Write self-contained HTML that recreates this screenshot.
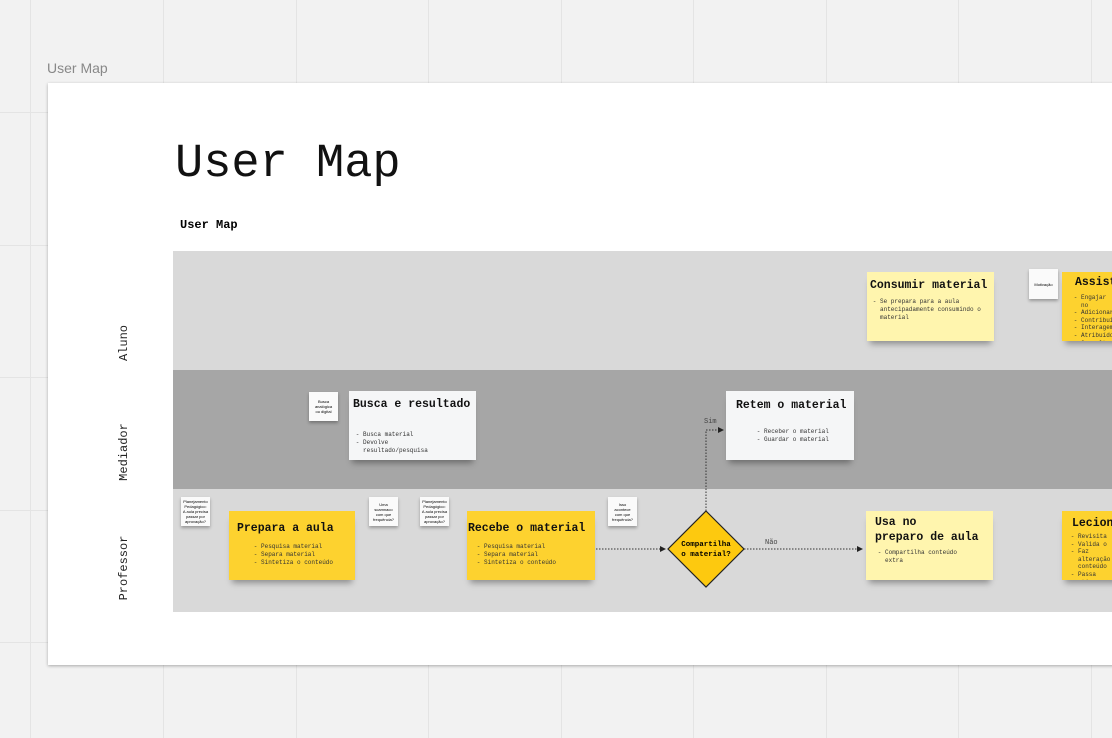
<!DOCTYPE html><html><head><meta charset="utf-8"><style>
body{margin:0;width:1112px;height:738px;overflow:hidden;background:#f2f2f2;position:relative;font-family:"Liberation Mono",monospace}
.a{position:absolute}
.gv{position:absolute;top:0;width:1px;height:738px;background:#e4e4e4}
.gh{position:absolute;left:0;height:1px;width:1112px;background:#e4e4e4}
.card{position:absolute;box-shadow:0 6px 6px -3px rgba(0,0,0,.35);padding:6px;box-sizing:border-box;overflow:hidden}
.card h{display:block;font-weight:bold;font-size:11.5px;color:#111;white-space:nowrap}
.card ul{margin:6px 0 0 0;padding-left:10px;font-size:6px;line-height:8px;color:#333;list-style:"- "}
.y{background:#fdd22f}.ly{background:#fff5ae}.w{background:#f5f6f7}
.m{position:absolute;width:29px;height:29px;background:#fafafa;box-shadow:0 2px 3px rgba(0,0,0,.3);font-family:"Liberation Sans",sans-serif;font-size:4px;line-height:5px;text-align:center;display:flex;align-items:center;justify-content:center}
.lab{position:absolute;font-family:"Liberation Mono",monospace;font-size:12px;transform:rotate(-90deg);transform-origin:center;color:#222}
</style></head><body>
<div class="gv" style="left:30px"></div><div class="gv" style="left:163px"></div><div class="gv" style="left:296px"></div><div class="gv" style="left:428px"></div><div class="gv" style="left:561px"></div><div class="gv" style="left:693px"></div><div class="gv" style="left:826px"></div><div class="gv" style="left:958px"></div><div class="gv" style="left:1091px"></div>
<div class="gh" style="top:112px"></div><div class="gh" style="top:245px"></div><div class="gh" style="top:377px"></div><div class="gh" style="top:510px"></div><div class="gh" style="top:642px"></div>
<div class="a" style="left:47px;top:60px;font-family:'Liberation Sans',sans-serif;font-size:14px;color:#888">User Map</div>
<div class="a" style="left:48px;top:83px;width:1070px;height:582px;background:#fff;box-shadow:0 1px 3px rgba(0,0,0,.3)"></div>
<div class="a" style="left:175px;top:138px;font-size:47px;color:#111">User Map</div>
<div class="a" style="left:180px;top:218px;font-size:12px;font-weight:bold">User Map</div>
<div class="a" style="left:173px;top:251px;width:939px;height:119px;background:#d9d9d9"></div>
<div class="a" style="left:173px;top:370px;width:939px;height:119px;background:#a6a6a6"></div>
<div class="a" style="left:173px;top:489px;width:939px;height:123px;background:#d9d9d9"></div>
<div class="lab" style="left:94px;top:336px;width:60px;text-align:center">Aluno</div>
<div class="lab" style="left:84px;top:445px;width:80px;text-align:center">Mediador</div>
<div class="lab" style="left:84px;top:561px;width:80px;text-align:center">Professor</div>

<div class="m" style="left:309px;top:392px">Busca<br>analógica<br>ou digital</div>
<div class="card w" style="left:349px;top:391px;width:127px;height:69px;padding:7px 4px"><h>Busca e resultado</h><ul style="margin-top:20px;width:80px"><li>Busca material</li><li>Devolve resultado/pesquisa</li></ul></div>
<div class="card w" style="left:726px;top:391px;width:128px;height:69px;padding:8px 10px"><h>Retem o material</h><ul style="margin:16px 0 0 18px"><li>Receber o material</li><li>Guardar o material</li></ul></div>
<div class="card ly" style="left:867px;top:272px;width:127px;height:69px;padding:7px 3px"><h>Consumir material</h><ul><li>Se prepara para a aula antecipadamente consumindo o material</li></ul></div>
<div class="m" style="left:1029px;top:269px;height:30px">Motivação</div>
<div class="card y" style="left:1062px;top:272px;width:60px;height:69px;padding:4px 13px"><h>Assistir</h><ul style="margin-left:-4px;margin-top:5px;line-height:7.6px"><li>Engajar no</li><li>Adicionar</li><li>Contribuir</li><li>Interagem</li><li>Atribuído</li><li>Consulta</li></ul></div>

<div class="m" style="left:181px;top:497px">Planejamento<br>Pedagógico:<br>A aula precisa<br>passar por<br>aprovação?</div>
<div class="card y" style="left:229px;top:511px;width:126px;height:69px;padding:11px 8px"><h>Prepara a aula</h><ul style="margin-left:14px;margin-top:8px"><li>Pesquisa material</li><li>Separa material</li><li>Sintetiza o conteúdo</li></ul></div>
<div class="m" style="left:369px;top:497px">Uma<br>scamnaco<br>com que<br>frequência?</div>
<div class="m" style="left:420px;top:497px">Planejamento<br>Pedagógico:<br>A aula precisa<br>passar por<br>aprovação?</div>
<div class="card y" style="left:467px;top:511px;width:128px;height:69px;padding:11px 1px"><h>Recebe o material</h><ul style="margin-left:6px;margin-top:8px"><li>Pesquisa material</li><li>Separa material</li><li>Sintetiza o conteúdo</li></ul></div>
<div class="m" style="left:608px;top:497px">Isso<br>acontece<br>com que<br>frequência?</div>
<svg class="a" style="left:0;top:0" width="1112" height="738">
<defs><marker id="ar" markerWidth="6" markerHeight="6" refX="5" refY="3" orient="auto"><path d="M0,0L6,3L0,6z" fill="#222"/></marker></defs>
<path d="M596,549H665" stroke="#333" stroke-dasharray="1.5,1.5" marker-end="url(#ar)"/>
<path d="M744,549H862" stroke="#333" stroke-dasharray="1.5,1.5" marker-end="url(#ar)"/>
<path d="M706,511V430H723" stroke="#333" fill="none" stroke-dasharray="1.5,1.5" marker-end="url(#ar)"/>
<polygon points="706,511 744,549 706,587 668,549" fill="#fdc90f" stroke="#222" stroke-width="1.2"/>
<text x="706" y="546" font-family="Liberation Mono" font-size="7.5" font-weight="bold" text-anchor="middle">Compartilha</text>
<text x="706" y="556" font-family="Liberation Mono" font-size="7.5" font-weight="bold" text-anchor="middle">o material?</text>
<text x="765" y="544" font-family="Liberation Mono" font-size="7" fill="#444">Não</text>
<text x="704" y="423" font-family="Liberation Mono" font-size="7" fill="#444">Sim</text>
</svg>
<div class="card ly" style="left:866px;top:511px;width:127px;height:69px;padding:4px 9px"><h style="white-space:normal;line-height:15px">Usa no<br>preparo de aula</h><ul style="margin-top:4px;width:85px"><li>Compartilha conteúdo extra</li></ul></div>
<div class="card y" style="left:1062px;top:511px;width:60px;height:69px;padding:6px 10px"><h>Lecionar</h><ul style="margin-left:-4px;margin-top:3px;line-height:7.6px"><li>Revisita</li><li>Valida o</li><li>Faz alteração conteúdo</li><li>Passa ativ</li><li>Consulta</li></ul></div>
</body></html>
